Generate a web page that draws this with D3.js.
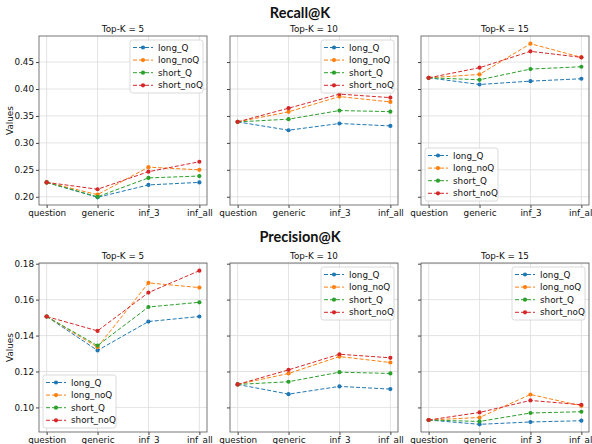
<!DOCTYPE html>
<html><head><meta charset="utf-8">
<script src="https://cdn.jsdelivr.net/npm/d3@7"></script>
<style>body{margin:0;background:#fff}svg{display:block}</style>
</head><body>
<svg id="c" width="592" height="444"></svg>
<script>
const categories = ["question","generic","inf_3","inf_all"];
const seriesNames = ["long_Q","long_noQ","short_Q","short_noQ"];
const colors = ["#1f77b4","#ff7f0e","#2ca02c","#d62728"];
const topKs = [5,10,15];
const recallTicks = [0.20,0.25,0.30,0.35,0.40,0.45];
const precisionTicks = [0.10,0.12,0.14,0.16,0.18];

// Recall@K values: [topK index][series][category]
const recall5 = [
  [0.2267,0.199,0.222,0.2267],
  [0.2267,0.204,0.255,0.250],
  [0.2267,0.200,0.235,0.2385],
  [0.2267,0.214,0.2465,0.265]
];
const recall10 = [
  [0.339,0.3235,0.336,0.3315],
  [0.339,0.3576,0.386,0.376],
  [0.339,0.344,0.360,0.358],
  [0.339,0.3644,0.3905,0.384]
];
const recall15 = [
  [0.4208,0.4084,0.4146,0.419],
  [0.4208,0.427,0.4841,0.4587],
  [0.4208,0.4171,0.437,0.4413],
  [0.4208,0.4395,0.4699,0.4587]
];
const precision5 = [
  [0.1506,0.1317,0.1478,0.1506],
  [0.1506,0.1335,0.1693,0.1667],
  [0.1506,0.1344,0.1559,0.1585],
  [0.1506,0.1426,0.1639,0.1761]
];
const precision10 = [
  [0.1128,0.1074,0.1117,0.1102],
  [0.1128,0.1189,0.1283,0.125],
  [0.1128,0.1143,0.1196,0.1189],
  [0.1128,0.1209,0.1296,0.1276]
];
const precision15 = [
  [0.093,0.0906,0.0919,0.0926],
  [0.093,0.0944,0.1072,0.1009],
  [0.093,0.0922,0.0969,0.0976],
  [0.093,0.0972,0.1039,0.1015]
];

const svg = d3.select("#c");
const FONT = "DejaVu Sans";
const FS = 8.8;
const colX = [[39,207],[230,398],[421,589]];
const rows = [
  {title:"Recall@K", titleY:18, top:36, bottom:205, data:[recall5,recall10,recall15], ticks:recallTicks, fmt:d3.format(".2f"),
   legendLoc:["ur","ur","ll"]},
  {title:"Precision@K", titleY:242, top:263, bottom:432, data:[precision5,precision10,precision15], ticks:precisionTicks, fmt:d3.format(".2f"),
   legendLoc:["ll","ur","ur"]}
];

rows.forEach(row => {
  const all = row.data.flat(2);
  const mn = d3.min(all), mx = d3.max(all), pad = (mx-mn)*0.05;
  const y = d3.scaleLinear().domain([mn-pad, mx+pad]).range([row.bottom,row.top]);
  svg.append("text").attr("x",300).attr("y",row.titleY).attr("text-anchor","middle")
    .attr("font-family","Lato").attr("font-weight","bold").attr("font-size",14.5).attr("fill","#111").text(row.title);
  row.data.forEach((panel, pi) => {
    const [x0,x1] = colX[pi];
    const x = d3.scalePoint().domain(categories).range([x0,x1]).padding(0);
    // emulate matplotlib 5% margins
    const xl = d3.scaleLinear().domain([-0.15,3.15]).range([x0,x1]);
    const px = c => xl(categories.indexOf(c));
    const g = svg.append("g");
    // grid
    g.selectAll(".gx").data(categories).join("line")
      .attr("x1",px).attr("x2",px).attr("y1",row.top).attr("y2",row.bottom)
      .attr("stroke","#dcdcdc").attr("stroke-width",0.8);
    g.selectAll(".gy").data(row.ticks).join("line")
      .attr("x1",x0).attr("x2",x1).attr("y1",d=>y(d)).attr("y2",d=>y(d))
      .attr("stroke","#dcdcdc").attr("stroke-width",0.8);
    // axes
    const xAxis = d3.axisBottom(xl).tickValues([0,1,2,3]).tickFormat(i=>categories[i]).tickSize(3).tickPadding(2);
    const ga = g.append("g").attr("transform",`translate(0,${row.bottom})`).call(xAxis);
    ga.select(".domain").remove();
    ga.selectAll("text").attr("font-family",FONT).attr("font-size",FS).attr("fill","#111");
    ga.selectAll("line").attr("stroke","#444");
    const yAxis = d3.axisLeft(y).tickValues(row.ticks).tickFormat(pi===0?row.fmt:()=>"").tickSize(3).tickPadding(2);
    const gy = g.append("g").attr("transform",`translate(${x0},0)`).call(yAxis);
    gy.select(".domain").remove();
    gy.selectAll("text").attr("font-family",FONT).attr("font-size",FS).attr("fill","#111");
    gy.selectAll("line").attr("stroke","#444");
    // frame
    g.append("rect").attr("x",x0).attr("y",row.top).attr("width",x1-x0).attr("height",row.bottom-row.top)
      .attr("fill","none").attr("stroke","#555").attr("stroke-width",0.8);
    // subplot title
    g.append("text").attr("x",(x0+x1)/2).attr("y",row.top-4).attr("text-anchor","middle")
      .attr("font-family",FONT).attr("font-size",FS).attr("fill","#111").text(`Top-K = ${topKs[pi]}`);
    if (pi===0) {
      g.append("text").attr("transform",`translate(13,${(row.top+row.bottom)/2}) rotate(-90)`)
        .attr("text-anchor","middle").attr("font-family",FONT).attr("font-size",FS).attr("fill","#111").text("Values");
    }
    // lines
    const line = d3.line().x((d,i)=>px(categories[i])).y(d=>y(d));
    panel.forEach((vals, si) => {
      g.append("path").attr("d",line(vals)).attr("fill","none").attr("stroke",colors[si])
        .attr("stroke-width",1).attr("stroke-dasharray","4,2");
      g.selectAll(null).data(vals).join("circle")
        .attr("cx",(d,i)=>px(categories[i])).attr("cy",d=>y(d)).attr("r",2.1).attr("fill",colors[si]);
    });
    // legend
    const lw = 73, lh = 53;
    const loc = row.legendLoc[pi];
    const lx = loc==="ur" ? x1-4-lw : x0+4;
    const ly = loc==="ur" ? row.top+4 : row.bottom-4-lh;
    const lg = g.append("g").attr("transform",`translate(${lx},${ly})`);
    lg.append("rect").attr("width",lw).attr("height",lh).attr("rx",2.5)
      .attr("fill","#fff").attr("fill-opacity",0.85).attr("stroke","#d0d0d0").attr("stroke-width",0.8);
    seriesNames.forEach((nm, si) => {
      const cy = 7.5 + si*12.6;
      lg.append("line").attr("x1",3).attr("x2",23).attr("y1",cy).attr("y2",cy)
        .attr("stroke",colors[si]).attr("stroke-width",1).attr("stroke-dasharray","4,2");
      lg.append("circle").attr("cx",13).attr("cy",cy).attr("r",2.1).attr("fill",colors[si]);
      lg.append("text").attr("x",28).attr("y",cy).attr("dy","0.35em")
        .attr("font-family",FONT).attr("font-size",FS).attr("fill","#111").text(nm);
    });
  });
});
</script>
</body></html>
